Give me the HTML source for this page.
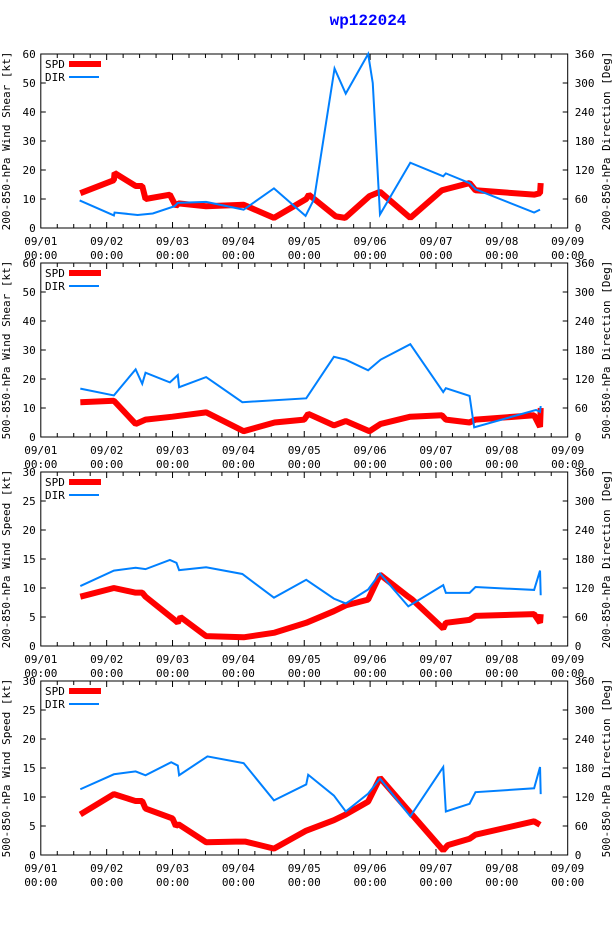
<!DOCTYPE html>
<html><head><meta charset="utf-8"><style>
body{margin:0;background:#fff;width:614px;height:936px;overflow:hidden}
svg{display:block}
text{font-family:"DejaVu Sans Mono","Liberation Mono",monospace;font-size:11px;fill:#000}
</style></head><body>
<svg id="chart" width="614" height="936" viewBox="0 0 614 936">
<text x="368" y="25" text-anchor="middle" style="font-size:16px;font-weight:bold;fill:#0000ff;font-family:'Liberation Mono',monospace">wp122024</text>
</svg>
<script>
const xTickLabels=["09/01","09/02","09/03","09/04","09/05","09/06","09/07","09/08","09/09"];
const p1Title=["200-850-hPa Wind Shear [kt]","200-850-hPa Direction [Deg]"];
const p2Title=["500-850-hPa Wind Shear [kt]","500-850-hPa Direction [Deg]"];
const p3Title=["200-850-hPa Wind Speed [kt]","200-850-hPa Direction [Deg]"];
const p4Title=["500-850-hPa Wind Speed [kt]","500-850-hPa Direction [Deg]"];
const p1LeftTicks=[0,10,20,30,40,50,60];
const p3LeftTicks=[0,5,10,15,20,25,30];
const rightTicks=[0,60,120,180,240,300,360];
// time in days since 09/01 00:00
const spd1T=[0.6,1.11,1.12,1.44,1.54,1.59,1.96,2.05,2.09,2.51,3.08,3.54,4.03,4.07,4.48,4.62,4.99,5.15,5.61,6.09,6.17,6.51,6.6,7.49,7.58,7.59];
const spd1V=[12,16.5,19,14.5,14.5,10,11.5,7.5,8.5,7.5,8,3.5,10,11.5,4,3.5,11,12.5,3.5,13,13.5,15.5,13,11.5,12,15.5];
const dir1T=[0.59,1.11,1.12,1.47,1.7,2.03,2.08,2.51,3.08,3.54,4.02,4.15,4.46,4.63,4.97,5.04,5.15,5.61,6.11,6.15,6.51,6.6,7.49,7.58];
const dir1V=[57,26,32,27,30,45,52,54,38,82,25,60,330,278,360,300,28,135,107,113,93,80,32,38];
const spd2T=[0.6,1.11,1.44,1.59,2.0,2.51,3.08,3.55,4.0,4.06,4.45,4.63,4.99,5.16,5.61,6.09,6.15,6.51,6.6,7.49,7.58,7.59];
const spd2V=[12,12.5,4.5,6,7,8.5,2,5,6,8,4,5.5,2,4.5,7,7.5,6,5,6,7.5,3.5,10];
const dir2T=[0.6,1.11,1.44,1.54,1.59,1.96,2.08,2.1,2.51,3.06,4.03,4.45,4.63,4.97,5.16,5.61,6.11,6.15,6.51,6.58,7.52,7.58,7.59];
const dir2V=[100,86,140,110,133,113,128,103,124,72,80,166,160,138,160,192,93,101,85,20,56,52,64];
const spd3T=[0.6,1.11,1.44,1.54,1.59,2.03,2.08,2.12,2.51,3.08,3.55,4.03,4.45,4.63,4.97,5.15,5.58,5.64,6.11,6.15,6.51,6.6,7.49,7.58,7.59];
const spd3V=[8.5,10,9.2,9.2,8.5,4.5,4,5,1.7,1.5,2.3,4,6,7,8,12.3,8.5,8,3,4,4.5,5.2,5.5,4,5.5];
const dir3T=[0.6,1.11,1.44,1.59,1.96,2.06,2.1,2.51,3.06,3.54,4.03,4.45,4.63,4.97,5.15,5.58,6.11,6.15,6.51,6.6,7.49,7.58,7.59];
const dir3V=[124,156,162,159,178,172,157,163,149,100,137,98,88,117,150,82,126,110,110,122,116,156,105];
const spd4T=[0.6,1.11,1.44,1.54,1.59,2.0,2.05,2.09,2.51,2.96,3.11,3.54,4.03,4.45,4.63,4.97,5.15,5.61,6.11,6.18,6.51,6.6,7.49,7.58];
const spd4V=[7,10.5,9.3,9.3,8,6.3,5,5.3,2.2,2.3,2.3,1.1,4.2,6,7,9.2,13.3,7.3,0.8,1.7,2.8,3.5,5.8,5.2];
const dir4T=[0.6,1.11,1.44,1.59,1.98,2.08,2.1,2.53,3.08,3.54,4.03,4.06,4.45,4.63,4.97,5.15,5.61,6.11,6.15,6.51,6.6,7.49,7.58,7.59];
const dir4V=[136,167,173,165,192,185,165,204,190,113,146,166,123,90,127,158,80,182,90,106,130,138,182,126];

const svg=document.getElementById('chart');
const NS='http://www.w3.org/2000/svg';
function mk(tag,attrs,parent){const e=document.createElementNS(NS,tag);for(const k in attrs)e.setAttribute(k,attrs[k]);(parent||svg).appendChild(e);return e;}
const X0=40.8,X1=567.7,PH=174;
const xs=d=>X0+(X1-X0)*d/8;

function panel(idx,top,leftTicks,leftMax,titles,spdT,spdV,dirT,dirV){
  const g=mk('g',{});
  
  
  const bot=top+PH;
  const yl=v=>bot-PH*v/leftMax;
  const yr=v=>bot-PH*v/360;
  const fr=mk('rect',{x:X0,y:top,width:X1-X0,height:PH,fill:'none',stroke:'#000','stroke-width':1},g);
  
  
  leftTicks.forEach(v=>{const y=yl(v);
    mk('line',{x1:X0,x2:X0+5,y1:y,y2:y,stroke:'#000'},g);
    const t=mk('text',{x:X0-5,y:y+4,'text-anchor':'end'},g);t.textContent=v;
    
    });
  rightTicks.forEach(v=>{const y=yr(v);
    mk('line',{x1:X1-5,x2:X1,y1:y,y2:y,stroke:'#000'},g);
    const t=mk('text',{x:X1+7,y:y+4},g);t.textContent=v;
    
    });
  for(let q=1;q<32;q++){const x=xs(q/4);const L=(q%4===0)?6:4;
    mk('line',{x1:x,x2:x,y1:bot,y2:bot-L,stroke:'#000'},g);
    mk('line',{x1:x,x2:x,y1:top,y2:top+L,stroke:'#000'},g);}
  xTickLabels.forEach((s,i)=>{const x=xs(i);
    const t=mk('text',{x:x,y:bot+17,'text-anchor':'middle'},g);t.textContent=s;
    
    
    const t2=mk('text',{x:x,y:bot+31,'text-anchor':'middle'},g);t2.textContent='00:00';
    
    });
  const cy=top+PH/2;
  const lt=mk('text',{x:7,y:cy,'text-anchor':'middle','dominant-baseline':'middle',transform:`rotate(-90 7 ${cy})`},g);lt.textContent=titles[0];
  
  
  const rt=mk('text',{x:607,y:cy,'text-anchor':'middle','dominant-baseline':'middle',transform:`rotate(-90 607 ${cy})`},g);rt.textContent=titles[1];
  
  
  const sp=mk('polyline',{points:spdT.map((t,i)=>xs(t)+','+yl(spdV[i])).join(' '),fill:'none',stroke:'#ff0000','stroke-width':6,'stroke-linejoin':'bevel'},g);
  
  
  const dr=mk('polyline',{points:dirT.map((t,i)=>xs(t)+','+yr(dirV[i])).join(' '),fill:'none',stroke:'#0080ff','stroke-width':2},g);
  
  
  const lg=mk('g',{},g);
  
  
  const a=mk('text',{x:45,y:top+14},lg);a.textContent='SPD';
  mk('line',{x1:69,x2:101,y1:top+10,y2:top+10,stroke:'#ff0000','stroke-width':6},lg);
  const b=mk('text',{x:45,y:top+27},lg);b.textContent='DIR';
  mk('line',{x1:69,x2:99,y1:top+23,y2:top+23,stroke:'#0080ff','stroke-width':2},lg);
}
panel(1,54,p1LeftTicks,60,p1Title,spd1T,spd1V,dir1T,dir1V);
panel(2,263,p1LeftTicks,60,p2Title,spd2T,spd2V,dir2T,dir2V);
panel(3,472,p3LeftTicks,30,p3Title,spd3T,spd3V,dir3T,dir3V);
panel(4,681,p3LeftTicks,30,p4Title,spd4T,spd4V,dir4T,dir4V);
</script>
</body></html>
